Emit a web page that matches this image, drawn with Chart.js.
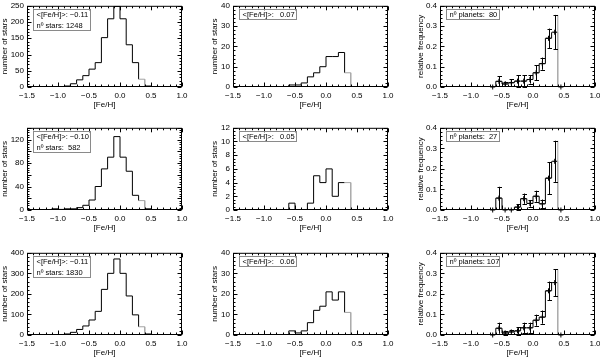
<!DOCTYPE html>
<html><head><meta charset="utf-8">
<script src="https://cdn.jsdelivr.net/npm/chart.js@4/dist/chart.umd.min.js"></script>
<style>
html,body{margin:0;padding:0;background:#fff;}
body{width:600px;height:357px;position:relative;overflow:hidden;}
canvas{position:absolute;}
</style>
</head><body>
<script>
// ---------------- data ----------------
const FEH_EDGES = [-1.1,-1.0,-0.9,-0.8,-0.7,-0.6,-0.5,-0.4,-0.3,-0.2,-0.1,0.0,0.1,0.2,0.3,0.4,0.5];
const STARS_ROW1 = [0,0,3,10,22,35,55,75,152,210,248,210,130,75,24,3];
const HOSTS_ROW1 = [0,0,0,0,0,1,1,2,5,7,10,15,15,17,7,0];
const STARS_ROW2 = [2,1,2,2,4,8,17,40,70,90,125,90,66,25,16,2];
const HOSTS_ROW2 = [0,0,0,0,0,1,0,0,1,5,4,6,2,4,4,0];
const STARS_ROW3 = [2,1,5,13,27,44,73,115,222,300,370,300,190,98,40,5];
const HOSTS_ROW3 = [0,0,0,0,0,2,1,2,6,12,14,21,17,21,11,0];

const FREQ_CENTERS = [-0.65,-0.55,-0.45,-0.35,-0.25,-0.15,-0.05,0.05,0.15,0.25,0.35,0.45];
const FREQ_ROW1 = [0,0.028,0.015,0.021,0.029,0.029,0.037,0.070,0.115,0.240,0.270,0];
const FREQ_ERR_ROW1 = [0,0.024,0.012,0.016,0.030,0.030,0.020,0.036,0.030,0.048,0.085,0];
const FREQ_ROW2 = [0,0.058,0,0,0.014,0.055,0.032,0.067,0.030,0.155,0.237,0];
const FREQ_ERR_ROW2 = [0,0.055,0,0,0.014,0.025,0.016,0.027,0.021,0.078,0.100,0];
const FREQ_ROW3 = [0,0.033,0.010,0.015,0.020,0.035,0.035,0.072,0.087,0.215,0.255,0];
const FREQ_ERR_ROW3 = [0,0.027,0.010,0.008,0.018,0.025,0.025,0.027,0.032,0.045,0.065,0];

const X_TICKS = [-1.5,-1.0,-0.5,0.0,0.5,1.0];
const Y_TICKS_STARS = [[0,50,100,150,200,250],[0,20,40,60,80,100,120,140],[0,100,200,300,400]];
const Y_TICKS_HOSTS = [[0,10,20,30,40],[0,2,4,6,8,10,12],[0,10,20,30,40]];
const Y_TICKS_FREQ = [0,0.1,0.2,0.3,0.4];

const MEAN_FEH_STARS = ['\u22120.11','\u22120.10','\u22120.11'];
const N_STARS = ['1248',' 582','1830'];
const MEAN_FEH_HOSTS = [' 0.07',' 0.05',' 0.06'];
const N_PLANETS = [' 80',' 27','107'];

// ---------------- layout ----------------
const COL_L = [27, 233, 440], COL_R = [182, 388, 595];
const ROW_T = [4, 126, 251], ROW_B = [87, 210, 335];
const YTITLE_PAD = [3.2, 7.2, 6.2];
const FONT = '"Liberation Sans", Arial, sans-serif';
const EDGE_GRAY = '#a4a4a4';

function fmtX(v){ return (v < 0 ? '\u2212' : '') + Math.abs(v).toFixed(1); }

function histPoints(edges, vals){
  const pts = [{x: edges[0], y: 0}];
  for (let i = 0; i < vals.length; i++) pts.push({x: edges[i], y: vals[i]});
  pts.push({x: edges[vals.length], y: 0});
  return pts;
}
function edgesFromCenters(c){
  const w = c[1] - c[0];
  const e = c.map(v => +(v - w/2).toFixed(3));
  e.push(+(c[c.length-1] + w/2).toFixed(3));
  return e;
}
function lastHostEdge(hosts){
  let k = 0; hosts.forEach((v,i)=>{ if (v > 0) k = i; });
  return FEH_EDGES[k+1];
}

const idlPlugin = {
  id: 'idl',
  afterDatasetsDraw(chart, args, opts){
    const p = opts.panel; if (!p) return;
    const {ctx, chartArea: a, scales: {x, y}} = chart;
    ctx.save();
    // gray edge line
    if (p.edgeX !== undefined) {
      const px = x.getPixelForValue(p.edgeX);
      ctx.strokeStyle = EDGE_GRAY; ctx.lineWidth = 1;
      ctx.beginPath(); ctx.moveTo(px, y.getPixelForValue(0)); ctx.lineTo(px, y.getPixelForValue(p.edgeTop)); ctx.stroke();
    }
    // error bars
    if (p.err) {
      ctx.strokeStyle = '#000'; ctx.lineWidth = 1;
      p.centers.forEach((c, i) => {
        if (!p.err[i]) return;
        const px = Math.round(x.getPixelForValue(c)) + 0.5;
        const yt = y.getPixelForValue(p.vals[i] + p.err[i]);
        const yb = y.getPixelForValue(Math.max(0, p.vals[i] - p.err[i]));
        ctx.beginPath();
        ctx.moveTo(px, yt); ctx.lineTo(px, yb);
        ctx.moveTo(px-2, Math.round(yt)+0.5); ctx.lineTo(px+2.5, Math.round(yt)+0.5);
        ctx.moveTo(px-2, Math.round(yb)+0.5); ctx.lineTo(px+2.5, Math.round(yb)+0.5);
        ctx.stroke();
      });
    }
    // box
    ctx.strokeStyle = '#000'; ctx.lineWidth = 1;
    const L = a.left + 0.5, R = a.right - 0.5, T = a.top + 0.5, B = a.bottom - 0.5;
    ctx.strokeRect(L, T, R - L, B - T);
    // ticks (inward, all four sides)
    ctx.beginPath();
    const xmin = x.min, xmax = x.max;
    for (let v = xmin; v <= xmax + 1e-9; v += 0.1) {
      const vv = Math.round(v*10)/10;
      const major = Math.abs(vv*2 - Math.round(vv*2)) < 1e-6;
      const len = major ? 4 : 2;
      const px = Math.round(x.getPixelForValue(vv)) + 0.5;
      ctx.moveTo(px, B); ctx.lineTo(px, B - len);
      ctx.moveTo(px, T); ctx.lineTo(px, T + len);
    }
    const nMinor = Math.round((y.max - y.min) / p.yMinor);
    for (let k = 0; k <= nMinor; k++) {
      const v = y.min + k * p.yMinor;
      const major = p.yTicks.some(t => Math.abs(t - v) < p.yMinor*1e-3);
      const len = major ? 4 : 2;
      const py = Math.round(y.getPixelForValue(v)) + 0.5;
      ctx.moveTo(L, py); ctx.lineTo(L + len, py);
      ctx.moveTo(R, py); ctx.lineTo(R - len, py);
    }
    ctx.stroke();
    // legend box
    if (p.legend) {
      const bx = Math.round(a.left + 6) + 0.5, by = Math.round(a.top + 3) + 0.5;
      const bh = p.legend.length === 2 ? 21 : 10;
      ctx.strokeStyle = '#8a8a8a';
      ctx.strokeRect(bx, by, p.legendW, bh);
      ctx.fillStyle = '#000';
      ctx.font = '7.5px ' + FONT;
      ctx.textBaseline = 'middle'; ctx.textAlign = 'left';
      p.legend.forEach((t, i) => ctx.fillText(t, bx + 3, by + 5.5 + i * 11.2));
    }
    ctx.restore();
  }
};

function makePanel(r, c, p){
  const L = COL_L[c], R = COL_R[c], T = ROW_T[r], B = ROW_B[r];
  const YW = 30, XH = 26, PT = 6, PR = 12;
  const w = (R - L) + YW + PR, h = (B - T) + PT + XH;
  const cv = document.createElement('canvas');
  cv.width = w; cv.height = h;
  cv.style.left = (L - YW) + 'px'; cv.style.top = (T - PT) + 'px';
  cv.style.width = w + 'px'; cv.style.height = h + 'px';
  document.body.appendChild(cv);
  const font = {family: FONT, size: 8, lineHeight: 1.2};
  const datasets = [{
    type: 'line', data: histPoints(p.edges, p.vals), stepped: 'before',
    borderColor: '#000', borderWidth: 1, pointRadius: 0, fill: false, order: 2,
    segment: {borderColor: s => (Math.abs(s.p1.parsed.x - p.edgeX) < 1e-6 ? EDGE_GRAY : '#000')}
  }];
  if (p.err) {
    datasets.push({
      type: 'scatter', data: p.centers.map((cx, i) => ({x: cx, y: p.vals[i]})),
      pointStyle: 'cross', pointRadius: 2.5, borderColor: '#000', backgroundColor: '#000',
      borderWidth: 1, showLine: false, clip: false, order: 1
    });
  }
  new Chart(cv, {
    type: 'line',
    data: {datasets},
    options: {
      responsive: false, animation: false, devicePixelRatio: 1,
      layout: {padding: {left: 0, top: PT, right: PR, bottom: 0}},
      plugins: {legend: {display: false}, tooltip: {enabled: false}, idl: {panel: p}},
      scales: {
        x: {
          type: 'linear', min: -1.5, max: 1.0,
          afterBuildTicks: s => { s.ticks = X_TICKS.map(v => ({value: v})); },
          afterFit: s => { s.height = XH; },
          ticks: {font, color: '#000', padding: 3.5, maxRotation: 0, autoSkip: false, callback: v => fmtX(v)},
          grid: {display: false, drawTicks: false}, border: {display: false},
          title: {display: true, text: '[Fe/H]', font, color: '#000', padding: {top: 0, bottom: 3.9}}
        },
        y: {
          type: 'linear', min: 0, max: p.yTicks[p.yTicks.length-1],
          afterBuildTicks: s => { s.ticks = p.yTicks.map(v => ({value: v})); },
          afterFit: s => { s.width = YW; },
          ticks: {font, color: '#000', padding: 3, callback: v => p.yFmt(v)},
          grid: {display: false, drawTicks: false}, border: {display: false},
          title: {display: true, text: p.yTitle, font, color: '#000', padding: {top: YTITLE_PAD[c], bottom: 0}}
        }
      }
    },
    plugins: [idlPlugin]
  });
}

const STARS = [STARS_ROW1, STARS_ROW2, STARS_ROW3];
const HOSTS = [HOSTS_ROW1, HOSTS_ROW2, HOSTS_ROW3];
const FREQ = [FREQ_ROW1, FREQ_ROW2, FREQ_ROW3];
const FREQ_ERR = [FREQ_ERR_ROW1, FREQ_ERR_ROW2, FREQ_ERR_ROW3];
const intFmt = v => String(Math.round(v));
const decFmt = v => v.toFixed(1);

for (let r = 0; r < 3; r++) {
  const ex = lastHostEdge(HOSTS[r]);
  const k = FEH_EDGES.indexOf(ex) - 1;
  const ys = Y_TICKS_STARS[r], yh = Y_TICKS_HOSTS[r];
  makePanel(r, 0, {
    edges: FEH_EDGES, vals: STARS[r], yTicks: ys, yMinor: (ys[1]-ys[0])/5, yFmt: intFmt,
    yTitle: 'number of stars', legend: ['<[Fe/H]>: ' + MEAN_FEH_STARS[r], 'n\u00ba stars: ' + N_STARS[r]], legendW: 57,
    edgeX: ex, edgeTop: STARS[r][k]
  });
  makePanel(r, 1, {
    edges: FEH_EDGES, vals: HOSTS[r], yTicks: yh, yMinor: (yh[1]-yh[0])/(r === 1 ? 4 : 5), yFmt: intFmt,
    yTitle: 'number of stars', legend: ['<[Fe/H]>:  ' + MEAN_FEH_HOSTS[r]], legendW: 57,
    edgeX: ex, edgeTop: HOSTS[r][k]
  });
  const fe = edgesFromCenters(FREQ_CENTERS);
  const j = FREQ_CENTERS.findIndex(cc => Math.abs(cc + 0.05 - ex) < 1e-6);
  makePanel(r, 2, {
    edges: fe, vals: FREQ[r], err: FREQ_ERR[r], centers: FREQ_CENTERS, yTicks: Y_TICKS_FREQ, yMinor: 0.02, yFmt: decFmt,
    yTitle: 'relative frequency', legend: ['n\u00ba planets: ' + N_PLANETS[r]], legendW: 53,
    edgeX: ex, edgeTop: FREQ[r][j] + FREQ_ERR[r][j]
  });
}
</script>
</body></html>
